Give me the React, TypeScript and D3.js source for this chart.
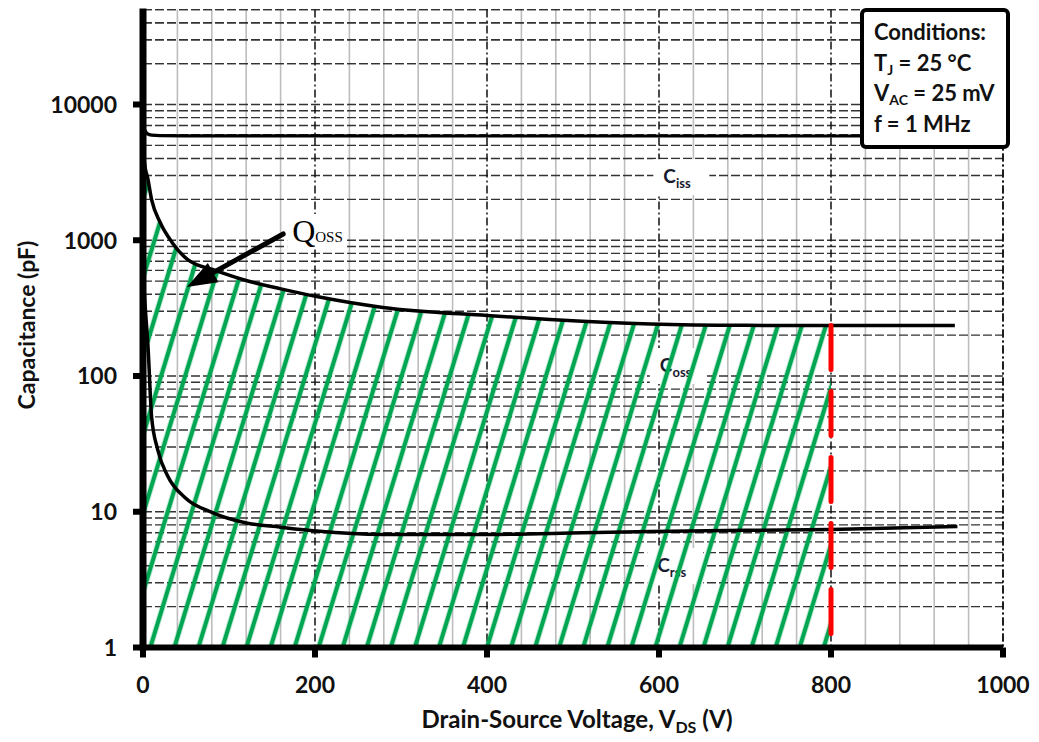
import * as d3 from 'd3';

const W = 1039;
const H = 742;
const margin = { left: 143, right: 36, top: 9.6, bottom: 94.5 };

// Ciss, Coss, Crss (pF) against drain-source voltage (V)
const cissV = [0, 2, 5, 10, 20, 50, 100, 200, 400, 600, 800, 940];
const cissC = [7200, 6500, 6100, 5950, 5900, 5880, 5870, 5865, 5860, 5860, 5860, 5860];

const cossV = [0, 1, 3, 5, 10, 20, 34, 52, 84, 124, 159, 202, 279, 400, 473, 590, 700, 800, 944];
const cossC = [5500, 4200, 3300, 2960, 1990, 1350, 960, 720, 600, 497, 440, 385, 320, 279, 261, 242, 236, 235, 235];

const crssV = [0, 2, 6, 10, 17, 29, 49, 80, 119, 160, 202, 279, 400, 512, 590, 700, 800, 947];
const crssC = [600, 365, 157, 50, 28.8, 18.2, 12.7, 9.9, 8.3, 7.7, 7.2, 6.8, 6.8, 7.0, 7.15, 7.3, 7.4, 7.8];

const xTicks = [0, 200, 400, 600, 800, 1000];
const yTicks = [1, 10, 100, 1000, 10000];
const vMax = 800;

const curveLabels = [
  { sub: 'iss', v: 605, c: 2630 },
  { sub: 'oss', v: 601, c: 107 },
  { sub: 'rss', v: 598, c: 3.6 },
];

// arrow pointing at the hatched Qoss area: tail, tip
const arrowFrom = { v: 163, c: 1112 };
const arrowTo = { v: 51, c: 452 };

const conditions = [
  ['Conditions:', '', ''],
  ['T', 'J', ' = 25 °C'],
  ['V', 'AC', ' = 25 mV'],
  ['f = 1 MHz', '', ''],
];

const font = 'Lato, "Open Sans", sans-serif';
const ink = '#111';

export default function App() {
  const x = d3.scaleLinear().domain([0, 1000]).range([margin.left, W - margin.right]);
  const y = d3.scaleLog().domain([1, 50000]).range([H - margin.bottom, margin.top]);
  const [x0, x1] = x.range();
  const [yb, yt] = y.range();

  const minorY: number[] = [];
  for (let d = 1; d <= 10000; d *= 10) {
    for (let k = 1; k <= 9; k++) minorY.push(k * d);
  }
  minorY.push(20000, 30000, 40000, 50000);
  const minorX = d3.range(40, 1000, 40).filter((v) => v % 200 !== 0);

  const line = (vs: number[], cs: number[]) =>
    d3
      .line<number>()
      .x((i) => x(vs[i]))
      .y((i) => y(cs[i]))
      .curve(d3.curveMonotoneX)(d3.range(vs.length)) as string;

  const hatchIdx = d3.range(cossV.length).filter((i) => cossV[i] <= vMax);
  const hatchArea = d3
    .area<number>()
    .x((i) => x(cossV[i]))
    .y0(y(1))
    .y1((i) => y(cossC[i]))
    .curve(d3.curveMonotoneX)(hatchIdx) as string;

  const cossAtMax = cossC[cossV.indexOf(vMax)];

  const ax = x(arrowFrom.v), ay = y(arrowFrom.c);
  const bx = x(arrowTo.v), by = y(arrowTo.c);
  const ang = Math.atan2(by - ay, bx - ax);
  const headL = 30, headW = 11;
  const hx = bx - headL * Math.cos(ang), hy = by - headL * Math.sin(ang);
  const head = [
    [bx, by],
    [hx + headW * Math.sin(ang), hy - headW * Math.cos(ang)],
    [hx - headW * Math.sin(ang), hy + headW * Math.cos(ang)],
  ]
    .map((p) => p.join(','))
    .join(' ');

  return (
    <svg width={W} height={H} style={{ position: 'absolute', left: 0, top: 0, background: '#fff' }}>
      <defs>
        <pattern id="hatch" width={23} height={10} patternUnits="userSpaceOnUse" patternTransform="rotate(17)">
          <line x1={11} y1={-5} x2={11} y2={15} stroke="#00a651" strokeWidth={4.5} />
        </pattern>
      </defs>

      {/* grid */}
      {minorX.map((v) => (
        <line key={'gx' + v} x1={x(v)} x2={x(v)} y1={yt} y2={yb} stroke="#bdbdbd" strokeWidth={1.6} />
      ))}
      {minorY.map((c) => (
        <line key={'gy' + c} x1={x0} x2={x1} y1={y(c)} y2={y(c)} stroke="#333" strokeWidth={1.4} strokeDasharray="9 3" />
      ))}
      {xTicks.slice(1).map((v) => (
        <line key={'mx' + v} x1={x(v)} x2={x(v)} y1={yt} y2={yb} stroke="#111" strokeWidth={1.5} strokeDasharray="8 3 2 3" />
      ))}

      {/* curve labels with white backing */}
      {curveLabels.map((l) => (
        <g key={l.sub} transform={`translate(${x(l.v)},${y(l.c)})`}>
          <rect x={-10} y={-24} width={56} height={36} fill="#fff" />
          <text fontFamily={font} fontWeight={700} fontSize={19} fill="#1a1a2e">
            C<tspan fontSize={13} dy={5}>{l.sub}</tspan>
          </text>
        </g>
      ))}

      {/* Qoss hatch */}
      <path d={hatchArea} fill="url(#hatch)" />

      {/* curves */}
      <path d={line(cissV, cissC)} fill="none" stroke="#000" strokeWidth={3.2} />
      <path d={line(cossV, cossC)} fill="none" stroke="#000" strokeWidth={3.5} />
      <path d={line(crssV, crssC)} fill="none" stroke="#000" strokeWidth={3.5} />

      {/* 800 V marker */}
      <line x1={x(vMax)} x2={x(vMax)} y1={y(cossAtMax)} y2={yb} stroke="#ff0000" strokeWidth={5} strokeDasharray="44 22" strokeLinecap="round" />

      {/* axes */}
      <line x1={x0} x2={x0} y1={yt - 1} y2={yb + 3} stroke="#000" strokeWidth={7} />
      <line x1={x0 - 3} x2={x1} y1={yb} y2={yb} stroke="#000" strokeWidth={6} />
      <line x1={x1} x2={x1} y1={yt} y2={yb} stroke="#111" strokeWidth={1.5} strokeDasharray="8 3 2 3" />
      {yTicks.map((c) => (
        <g key={'yt' + c}>
          <line x1={x0} x2={x0 - 10} y1={y(c)} y2={y(c)} stroke="#000" strokeWidth={6} />
          <text x={x0 - 26} y={y(c)} dy="0.36em" textAnchor="end" fontFamily={font} fontWeight={700} fontSize={23} fill={ink}>
            {c}
          </text>
        </g>
      ))}
      {xTicks.map((v) => (
        <g key={'xt' + v}>
          <line x1={x(v)} x2={x(v)} y1={yb} y2={yb + 10} stroke="#000" strokeWidth={6} />
          <text x={x(v)} y={yb + 45} textAnchor="middle" fontFamily={font} fontWeight={700} fontSize={23} fill={ink}>
            {v}
          </text>
        </g>
      ))}

      <text transform={`translate(35,325) rotate(-90)`} textAnchor="middle" fontFamily={font} fontWeight={700} fontSize={23} fill={ink}>
        Capacitance (pF)
      </text>
      <text x={577} y={H - 14} textAnchor="middle" fontFamily={font} fontWeight={700} fontSize={24} fill={ink}>
        Drain-Source Voltage, V<tspan fontSize={16} dy={5}>DS</tspan>
        <tspan dy={-5}> (V)</tspan>
      </text>

      {/* Qoss annotation */}
      <line x1={ax} y1={ay} x2={hx} y2={hy} stroke="#000" strokeWidth={5} strokeLinecap="round" />
      <polygon points={head} fill="#000" />
      <rect x={ax + 4} y={ay - 20} width={58} height={34} fill="#fff" />
      <text x={ax + 9} y={ay + 8} fontFamily='"Liberation Serif", "Times New Roman", serif' fontSize={32} fill="#000">
        Q<tspan fontSize={15}>OSS</tspan>
      </text>

      {/* conditions box */}
      <rect x={862} y={10} width={146} height={137} rx={4} fill="#fff" stroke="#000" strokeWidth={4} />
      {conditions.map((c, i) => (
        <text key={i} x={874} y={40 + i * 30.5} fontFamily={font} fontWeight={700} fontSize={22} fill={ink}>
          {c[0]}
          {c[1] && <tspan fontSize={14} dy={4}>{c[1]}</tspan>}
          {c[2] && <tspan dy={c[1] ? -4 : 0}>{c[2]}</tspan>}
        </text>
      ))}
    </svg>
  );
}
